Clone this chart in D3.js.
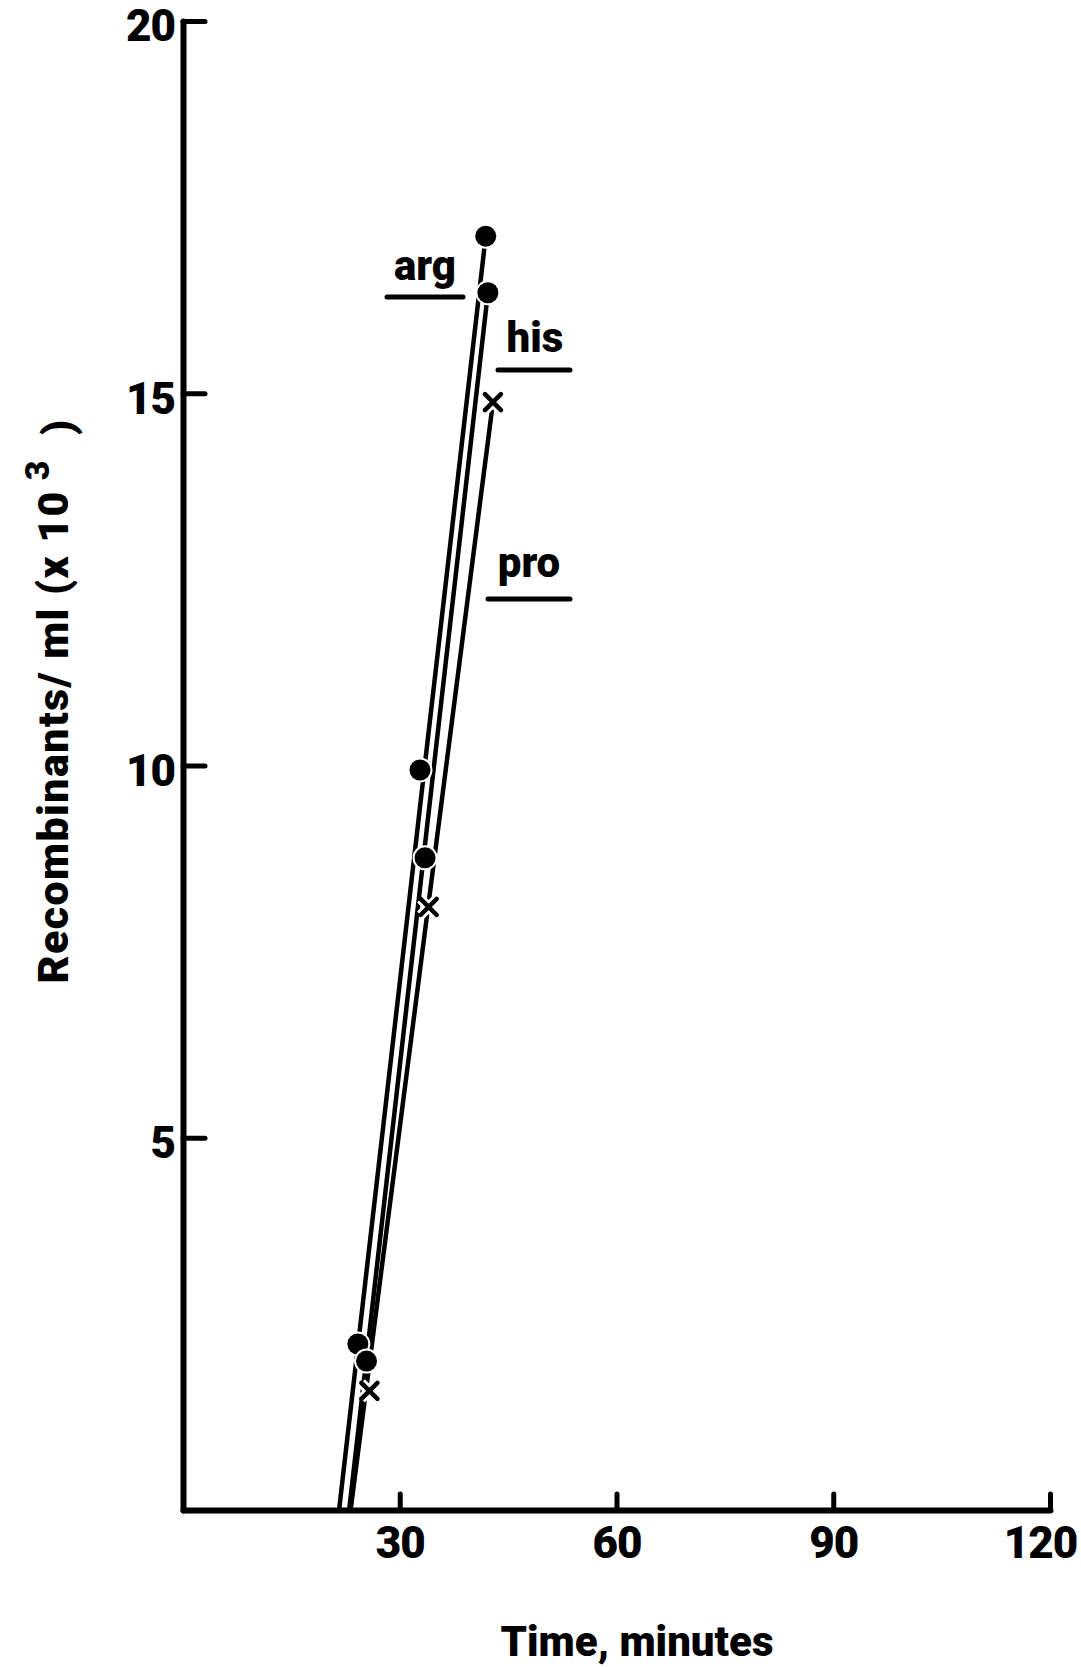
<!DOCTYPE html>
<html>
<head>
<meta charset="utf-8">
<script src="https://cdn.jsdelivr.net/npm/d3@7"></script>
<style>
  html, body { margin: 0; padding: 0; background: #fff; }
  svg { display: block; }
  text { font-family: Roboto, "Open Sans", "DejaVu Sans", sans-serif; font-weight: 900; fill: #000; }
</style>
</head>
<body>
<svg id="chart" width="1081" height="1667"></svg>
<script>
// ---- data ----
const xTicks = [30, 60, 90, 120];
const yTicks = [5, 10, 15, 20];
const xTitle = "Time, minutes";
const yTitle = "Recombinants/ ml (x 10";
const seriesNames = ["arg", "his", "pro"];

const argTime  = [24.2, 32.8, 41.9];
const argValue = [2.23, 9.94, 17.11];
const hisTime  = [25.4, 33.5, 42.2];
const hisValue = [2.0, 8.76, 16.35];
const proTime  = [25.8, 34.0, 42.9];
const proValue = [1.6, 8.1, 14.88];

// fitted lines (read endpoints)
const argLineTime  = [21.6, 41.9];
const argLineValue = [0, 17.11];
const hisLineTime  = [23.0, 42.2];
const hisLineValue = [0, 16.35];
const proLineTime  = [23.2, 42.9];
const proLineValue = [0, 14.88];

// ---- drawing ----
const svg = d3.select("#chart");
const x = d3.scaleLinear().domain([0, 120]).range([183, 1050]);
const y = d3.scaleLinear().domain([0, 20]).range([1510, 21]);

const series = [
  {name: "arg", t: argTime, v: argValue, lt: argLineTime, lv: argLineValue, marker: "dot"},
  {name: "his", t: hisTime, v: hisValue, lt: hisLineTime, lv: hisLineValue, marker: "dot"},
  {name: "pro", t: proTime, v: proValue, lt: proLineTime, lv: proLineValue, marker: "x"}
];

// axes
const yAxis = d3.axisLeft(y).tickValues(yTicks).tickSizeInner(-22).tickSizeOuter(0).tickPadding(8);
const gy = svg.append("g").attr("transform", `translate(${x(0)},0)`).call(yAxis);
gy.select(".domain").attr("stroke", "#000").attr("stroke-width", 6).attr("stroke-linecap", "round");
gy.selectAll(".tick line").attr("stroke", "#000").attr("stroke-width", 5).attr("stroke-linecap", "round");
gy.selectAll(".tick text")
  .attr("font-size", 44).attr("font-family", null).attr("dy", "0.45em").attr("fill", "#000")
  .attr("letter-spacing", -1);

const xAxis = d3.axisBottom(x).tickValues(xTicks).tickSizeInner(-16).tickSizeOuter(0).tickPadding(17);
const gx = svg.append("g").attr("transform", `translate(0,${y(0)})`).call(xAxis);
gx.select(".domain").attr("stroke", "#000").attr("stroke-width", 6).attr("stroke-linecap", "round");
gx.selectAll(".tick line").attr("stroke", "#000").attr("stroke-width", 5).attr("stroke-linecap", "round");
gx.selectAll(".tick text")
  .attr("font-size", 44).attr("font-family", null).attr("fill", "#000")
  .attr("letter-spacing", -1)
  .attr("dx", d => d === 120 ? -10 : 0);
svg.selectAll(".tick text").style("font-weight", 900);

// lines
const line = d3.line().x(d => x(d[0])).y(d => y(d[1]));
svg.append("g").selectAll("path").data(series).join("path")
  .attr("d", s => line(s.lt.map((t, i) => [t, s.lv[i]])))
  .attr("fill", "none").attr("stroke", "#000").attr("stroke-width", 4.5).attr("stroke-linecap", "round");

// markers
series.forEach(s => {
  const pts = s.t.map((t, i) => [t, s.v[i]]);
  const g = svg.append("g");
  if (s.marker === "dot") {
    g.selectAll("circle").data(pts).join("circle")
      .attr("cx", d => x(d[0])).attr("cy", d => y(d[1])).attr("r", 10.5)
      .attr("fill", "#000").attr("stroke", "#fff").attr("stroke-width", 4).attr("paint-order", "stroke");
  } else {
    const sym = d3.symbol().type(d3.symbolX).size(170);
    g.selectAll("path.halo").data(pts).join("path").attr("class", "halo")
      .attr("transform", d => `translate(${x(d[0])},${y(d[1])})`)
      .attr("d", sym).attr("fill", "none").attr("stroke", "#fff").attr("stroke-width", 10);
    g.selectAll("path.mk").data(pts).join("path").attr("class", "mk")
      .attr("transform", d => `translate(${x(d[0])},${y(d[1])})`)
      .attr("d", sym).attr("fill", "none").attr("stroke", "#000").attr("stroke-width", 4.5)
      .attr("stroke-linecap", "round");
  }
});

// series labels (underlined)
const labelLayout = {
  arg: {cx: 425, base: 280, ul: [387, 463, 297]},
  his: {cx: 535, base: 352, ul: [498, 570, 370]},
  pro: {cx: 529, base: 577, ul: [488, 570, 599]}
};
seriesNames.forEach(n => {
  const L = labelLayout[n];
  svg.append("text").attr("x", L.cx).attr("y", L.base).attr("text-anchor", "middle")
    .attr("font-size", 42).text(n);
  svg.append("line").attr("x1", L.ul[0]).attr("x2", L.ul[1]).attr("y1", L.ul[2]).attr("y2", L.ul[2])
    .attr("stroke", "#000").attr("stroke-width", 5).attr("stroke-linecap", "round");
});

// axis titles
svg.append("text").attr("x", 637).attr("y", 1656).attr("text-anchor", "middle")
  .attr("font-size", 42).text(xTitle);

const yt = svg.append("text").attr("transform", "translate(68,701) rotate(-90)")
  .attr("text-anchor", "middle").attr("font-size", 43).attr("letter-spacing", 1.4);
yt.append("tspan").text(yTitle);
yt.append("tspan").attr("dy", "-0.55em").attr("font-size", 34).text("\u00a03");
yt.append("tspan").attr("dy", "0.55em").text("\u00a0\u00a0)");
</script>
</body>
</html>
